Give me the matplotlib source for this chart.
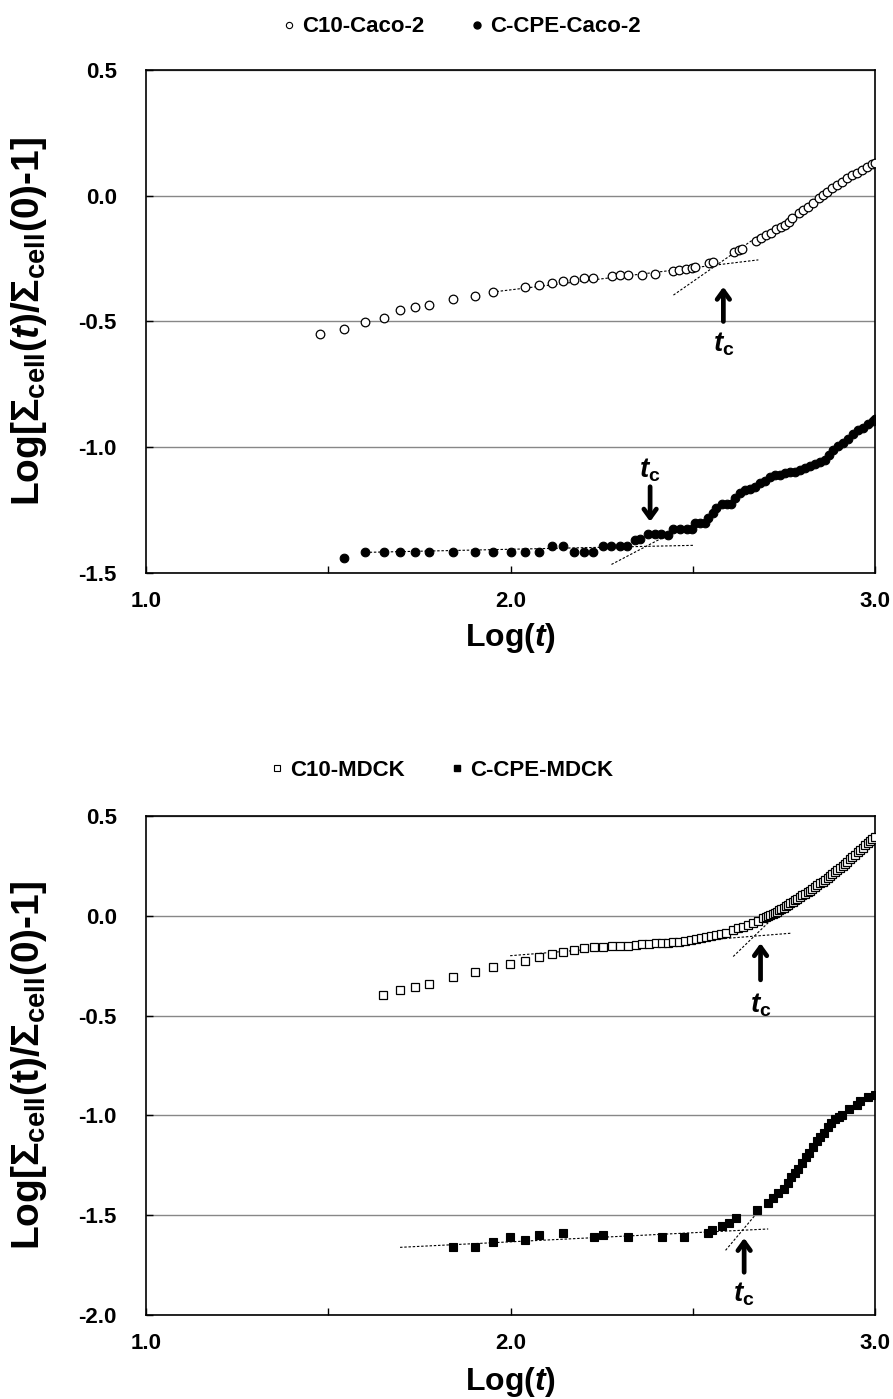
import matplotlib
matplotlib.use("Agg")
import matplotlib.pyplot as plt
from matplotlib.lines import Line2D
from matplotlib.ticker import FixedLocator, FixedFormatter

plt.rcParams['font.family'] = ['Liberation Sans', 'DejaVu Sans']
plt.rcParams['font.weight'] = 'bold'
plt.rcParams['mathtext.fontset'] = 'custom'
plt.rcParams['mathtext.rm'] = 'Liberation Sans:bold'
plt.rcParams['mathtext.it'] = 'Liberation Sans:bold:italic'
plt.rcParams['mathtext.bf'] = 'Liberation Sans:bold'
plt.rcParams['axes.unicode_minus'] = False

# ---------------- Caco-2 ----------------
c10_caco_x = [1.476, 1.542, 1.602, 1.652, 1.698, 1.739, 1.777, 1.843, 1.902, 1.953,
              2.040, 2.078, 2.113, 2.145, 2.175, 2.203, 2.227, 2.278, 2.300, 2.321,
              2.362, 2.396, 2.447, 2.463, 2.481, 2.497, 2.506, 2.545, 2.555, 2.614,
              2.627, 2.634, 2.674, 2.686, 2.700, 2.715, 2.728, 2.741, 2.753, 2.764,
              2.773, 2.792, 2.803, 2.817, 2.831, 2.847, 2.856, 2.869, 2.882, 2.895,
              2.909, 2.922, 2.936, 2.950, 2.963, 2.977, 2.991, 3.000]
c10_caco_y = [-0.550, -0.530, -0.502, -0.487, -0.453, -0.444, -0.434, -0.411, -0.397, -0.383,
              -0.364, -0.356, -0.346, -0.338, -0.334, -0.329, -0.326, -0.319, -0.314, -0.314,
              -0.314, -0.310, -0.301, -0.295, -0.290, -0.287, -0.285, -0.269, -0.265, -0.224,
              -0.216, -0.211, -0.179, -0.168, -0.157, -0.147, -0.133, -0.125, -0.116, -0.103,
              -0.090, -0.070, -0.057, -0.046, -0.030, -0.010, 0.003, 0.016, 0.030, 0.043,
              0.056, 0.069, 0.083, 0.092, 0.102, 0.113, 0.125, 0.131]

cpe_caco_x = [1.542, 1.602, 1.652, 1.698, 1.739, 1.777, 1.843, 1.902, 1.953, 2.000,
              2.040, 2.078, 2.113, 2.145, 2.175, 2.203, 2.227, 2.255, 2.275, 2.300,
              2.320, 2.342, 2.355, 2.378, 2.396, 2.414, 2.431, 2.447, 2.465, 2.483,
              2.497, 2.506, 2.520, 2.534, 2.543, 2.555, 2.565, 2.579, 2.593, 2.604,
              2.616, 2.629, 2.643, 2.657, 2.671, 2.684, 2.698, 2.712, 2.726, 2.739,
              2.753, 2.767, 2.781, 2.794, 2.808, 2.822, 2.835, 2.849, 2.863, 2.874,
              2.885, 2.899, 2.913, 2.927, 2.940, 2.954, 2.968, 2.982, 2.995, 3.000]
cpe_caco_y = [-1.442, -1.415, -1.415, -1.415, -1.415, -1.415, -1.415, -1.415, -1.415, -1.415,
              -1.415, -1.415, -1.391, -1.391, -1.415, -1.415, -1.415, -1.391, -1.391, -1.391,
              -1.391, -1.369, -1.366, -1.345, -1.345, -1.345, -1.348, -1.324, -1.324, -1.324,
              -1.324, -1.303, -1.303, -1.303, -1.283, -1.263, -1.243, -1.226, -1.226, -1.226,
              -1.203, -1.181, -1.170, -1.167, -1.159, -1.143, -1.133, -1.120, -1.110, -1.110,
              -1.104, -1.097, -1.097, -1.090, -1.084, -1.075, -1.067, -1.059, -1.051, -1.031,
              -1.011, -0.995, -0.982, -0.968, -0.947, -0.931, -0.922, -0.909, -0.894, -0.889]

# fitted segments (x0, y0, x1, y1)
caco_fits = [(1.950, -0.383, 2.680, -0.255),
             (2.447, -0.395, 2.680, -0.160),
             (1.602, -1.418, 2.503, -1.390),
             (2.277, -1.466, 2.430, -1.350)]
# crossover arrows: (x, tail_y, tip_y, label_y)
caco_tc = [(2.584, -0.500, -0.362, -0.590),
           (2.383, -1.157, -1.296, -1.090)]

# ---------------- MDCK ----------------
c10_mdck_x = [1.651, 1.697, 1.739, 1.776, 1.843, 1.902, 1.953, 1.999, 2.040, 2.078,
              2.113, 2.145, 2.174, 2.203, 2.229, 2.255, 2.278, 2.300, 2.323, 2.343,
              2.362, 2.381, 2.398, 2.415, 2.431, 2.447, 2.463, 2.479, 2.494, 2.509,
              2.523, 2.536, 2.549, 2.563, 2.577, 2.591, 2.611, 2.625, 2.639, 2.652,
              2.666, 2.680, 2.694, 2.700, 2.707, 2.712, 2.719, 2.725, 2.731, 2.737,
              2.743, 2.749, 2.755, 2.761, 2.767, 2.774, 2.781, 2.787, 2.794, 2.801,
              2.808, 2.815, 2.822, 2.828, 2.835, 2.842, 2.849, 2.856, 2.863, 2.870,
              2.876, 2.883, 2.890, 2.897, 2.904, 2.911, 2.918, 2.924, 2.931, 2.938,
              2.945, 2.952, 2.959, 2.966, 2.973, 2.980, 2.986, 2.993, 3.000]
c10_mdck_y = [-0.396, -0.374, -0.359, -0.342, -0.309, -0.284, -0.257, -0.239, -0.224, -0.207,
              -0.192, -0.182, -0.172, -0.162, -0.157, -0.154, -0.151, -0.149, -0.149, -0.146,
              -0.142, -0.139, -0.137, -0.137, -0.134, -0.132, -0.129, -0.126, -0.121, -0.117,
              -0.112, -0.107, -0.102, -0.096, -0.092, -0.087, -0.071, -0.062, -0.054, -0.046,
              -0.034, -0.024, -0.013, -0.007, -0.001, 0.005, 0.010, 0.015, 0.021, 0.027,
              0.034, 0.041, 0.048, 0.055, 0.063, 0.071, 0.080, 0.086, 0.093, 0.102,
              0.110, 0.118, 0.126, 0.134, 0.143, 0.153, 0.163, 0.171, 0.180, 0.190,
              0.200, 0.210, 0.220, 0.230, 0.240, 0.250, 0.260, 0.271, 0.283, 0.294,
              0.306, 0.318, 0.330, 0.341, 0.353, 0.365, 0.376, 0.386, 0.396]

cpe_mdck_x = [1.843, 1.902, 1.953, 1.999, 2.040, 2.078, 2.145, 2.229, 2.255, 2.321,
              2.415, 2.476, 2.543, 2.554, 2.579, 2.600, 2.620, 2.675, 2.707, 2.721,
              2.735, 2.750, 2.760, 2.770, 2.780, 2.790, 2.800, 2.810, 2.820, 2.830,
              2.840, 2.850, 2.860, 2.870, 2.880, 2.890, 2.900, 2.910, 2.930, 2.950,
              2.960, 2.980, 3.000]
cpe_mdck_y = [-1.661, -1.661, -1.636, -1.609, -1.624, -1.599, -1.588, -1.611, -1.599, -1.611,
              -1.611, -1.609, -1.588, -1.573, -1.552, -1.539, -1.516, -1.472, -1.439, -1.414,
              -1.389, -1.370, -1.340, -1.310, -1.290, -1.270, -1.240, -1.210, -1.190, -1.160,
              -1.130, -1.110, -1.090, -1.060, -1.040, -1.020, -1.010, -1.000, -0.970, -0.950,
              -0.930, -0.910, -0.900]

mdck_fits = [(1.999, -0.200, 2.771, -0.087),
             (2.611, -0.204, 2.748, 0.038),
             (1.697, -1.661, 2.707, -1.569),
             (2.590, -1.676, 2.684, -1.472)]
mdck_tc = [(2.686, -0.321, -0.137, -0.446),
           (2.641, -1.786, -1.614, -1.897)]

x_major = [1.0, 2.0, 3.0]
x_minor = [1.5, 2.5]

W, H = 893, 1399
fig = plt.figure(figsize=(W / 100, H / 100), dpi=100)

ax_top = fig.add_axes([146 / W, 1 - 573 / H, 729 / W, 503 / H])
ax_bot = fig.add_axes([146 / W, 1 - 1315 / H, 729 / W, 499 / H])

ylab_top = r'Log[$\mathit{\Sigma}_{\mathrm{cell}}$($\mathit{t}$)/$\mathit{\Sigma}_{\mathrm{cell}}$(0)-1]'
ylab_bot = r'Log[$\mathit{\Sigma}_{\mathrm{cell}}$(t)/$\mathit{\Sigma}_{\mathrm{cell}}$(0)-1]'

TICK_FS = 16
LABEL_FS = 23
YLABEL_FS = 28


def style_axes(ax, yticks, ylabel):
    ax.set_xlim(1.0, 3.0)
    ax.set_ylim(yticks[0], yticks[-1])
    ax.xaxis.set_major_locator(FixedLocator(x_major))
    ax.xaxis.set_minor_locator(FixedLocator(x_minor))
    ax.xaxis.set_major_formatter(FixedFormatter([f'{v:.1f}' for v in x_major]))
    ax.yaxis.set_major_locator(FixedLocator(yticks))
    ax.yaxis.set_major_formatter(FixedFormatter([f'{v:.1f}' for v in yticks]))
    ax.tick_params(axis='x', which='both', direction='in', length=5, width=1.0,
                   pad=13, labelsize=TICK_FS, colors='black')
    ax.tick_params(axis='y', which='major', direction='in', length=5, width=1.0,
                   pad=21, labelsize=TICK_FS)
    for lab in ax.get_xticklabels() + ax.get_yticklabels():
        lab.set_fontweight('bold')
    ax.grid(axis='y', color='#878787', linewidth=1.0)
    ax.set_axisbelow(True)
    for s in ax.spines.values():
        s.set_color('black')
        s.set_linewidth(1.2)
    ax.set_xlabel(r'Log($\mathit{t}$)', fontsize=LABEL_FS, fontweight='bold')
    ax.xaxis.label.set_va('center')
    ax.set_ylabel(ylabel, fontsize=YLABEL_FS, fontweight='bold')
    ax.yaxis.label.set_va('center')


style_axes(ax_top, [-1.5, -1.0, -0.5, 0.0, 0.5], ylab_top)
style_axes(ax_bot, [-2.0, -1.5, -1.0, -0.5, 0.0, 0.5], ylab_bot)
ax_top.xaxis.set_label_coords(0.5, -65 / 503)
ax_bot.xaxis.set_label_coords(0.5, -67 / 499)
ax_top.yaxis.set_label_coords(-117 / 729, 0.5)
ax_bot.yaxis.set_label_coords(-117 / 729, 0.5)


def draw_fits(ax, fits):
    for x0, y0, x1, y1 in fits:
        ax.plot([x0, x1], [y0, y1], color='black', lw=0.8,
                dashes=(2.2, 1.6), zorder=2)


def draw_tc(ax, marks):
    for x, tail, tip, ly in marks:
        ax.annotate('', xy=(x, tip), xytext=(x, tail),
                    arrowprops=dict(arrowstyle='->,head_length=0.62,head_width=0.45',
                                    lw=3.4, color='black', shrinkA=0, shrinkB=0),
                    zorder=5)
        ax.text(x, ly, r'$\mathit{t}_{\mathrm{c}}$', fontsize=20,
                ha='center', va='center', zorder=5)


# top panel
draw_fits(ax_top, caco_fits)
ax_top.plot(c10_caco_x, c10_caco_y, ls='none', marker='o', ms=6.2, mfc='white',
            mec='black', mew=0.9, zorder=3)
ax_top.plot(cpe_caco_x, cpe_caco_y, ls='none', marker='o', ms=6.2, mfc='black',
            mec='black', mew=0.8, zorder=3)
draw_tc(ax_top, caco_tc)

# bottom panel
draw_fits(ax_bot, mdck_fits)
ax_bot.plot(c10_mdck_x, c10_mdck_y, ls='none', marker='s', ms=5.4, mfc='white',
            mec='black', mew=0.9, zorder=3)
ax_bot.plot(cpe_mdck_x, cpe_mdck_y, ls='none', marker='s', ms=5.6, mfc='black',
            mec='black', mew=0.8, zorder=3)
draw_tc(ax_bot, mdck_tc)

# legends above each panel
h_top = [Line2D([], [], ls='none', marker='o', ms=4.5, mfc='white', mec='black', mew=0.8),
         Line2D([], [], ls='none', marker='o', ms=5, mfc='black', mec='black')]
h_bot = [Line2D([], [], ls='none', marker='s', ms=4.5, mfc='white', mec='black', mew=0.8),
         Line2D([], [], ls='none', marker='s', ms=5, mfc='black', mec='black')]
leg_kw = dict(loc='center', ncol=2, frameon=False, handlelength=0.7,
              handletextpad=0.25, columnspacing=2.0, bbox_transform=fig.transFigure,
              prop={'weight': 'bold', 'size': 16})
ax_top.legend(h_top, ['C10-Caco-2', 'C-CPE-Caco-2'],
              bbox_to_anchor=(461 / W, 1 - 27 / H), **leg_kw)
ax_bot.legend(h_bot, ['C10-MDCK', 'C-CPE-MDCK'],
              bbox_to_anchor=(441 / W, 1 - 770 / H), **leg_kw)

fig.savefig('out.png', dpi=100)
